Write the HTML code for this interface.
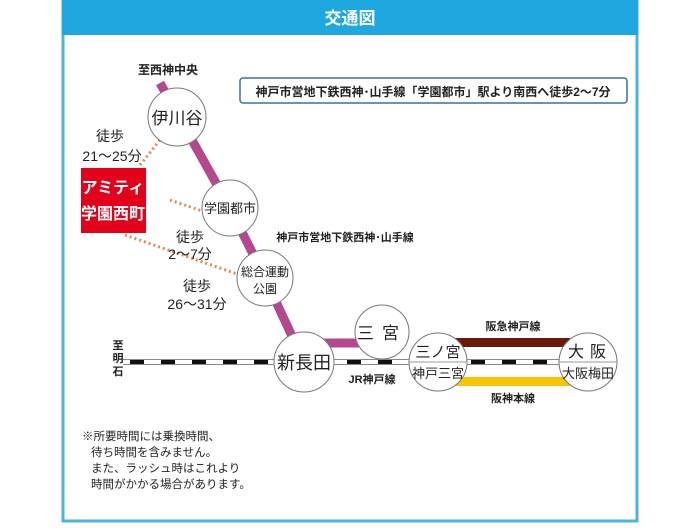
<!DOCTYPE html>
<html><head><meta charset="utf-8"><style>
body{margin:0;width:700px;height:525px;background:#fff;overflow:hidden}
svg text{font-family:"Liberation Sans","Noto Sans CJK JP",sans-serif;fill:#222}
</style></head><body>
<svg width="700" height="525" viewBox="0 0 700 525" xmlns="http://www.w3.org/2000/svg">
<rect x="63" y="0" width="574" height="521" fill="#fff" stroke="#4ab6dd" stroke-width="3"/>
<rect x="62" y="0" width="576" height="35" fill="#1fa8e0"/>
<text x="350" y="24" font-size="17" font-weight="bold" text-anchor="middle" style="fill:#fff">交通図</text>
<rect x="240" y="78" width="387" height="25" rx="3" fill="#fff" stroke="#3a6ea5" stroke-width="1.5"/>
<text x="433" y="96" font-size="12" font-weight="bold" text-anchor="middle">神戸市営地下鉄西神･山手線「学園都市」駅より南西へ徒歩2～7分</text>
<text x="168" y="74" font-size="12" font-weight="bold" text-anchor="middle">至西神中央</text>
<polyline points="160,83 230,208 265,278 304,362" fill="none" stroke="#b5478f" stroke-width="9"/>
<line x1="304" y1="343" x2="382" y2="343" stroke="#b5478f" stroke-width="9"/>
<text x="345" y="241" font-size="11" font-weight="bold" text-anchor="middle">神戸市営地下鉄西神･山手線</text>
<line x1="123" y1="362" x2="590" y2="362" stroke="#888" stroke-width="6"/>
<line x1="123" y1="362" x2="590" y2="362" stroke="#fff" stroke-width="4"/>
<line x1="130" y1="362" x2="590" y2="362" stroke="#111" stroke-width="4" stroke-dasharray="14,17"/>
<text x="118" y="349" font-size="11" font-weight="bold" text-anchor="middle">至</text>
<text x="118" y="362" font-size="11" font-weight="bold" text-anchor="middle">明</text>
<text x="118" y="375" font-size="11" font-weight="bold" text-anchor="middle">石</text>
<text x="372" y="383" font-size="11" font-weight="bold" text-anchor="middle">JR神戸線</text>
<rect x="455" y="338" width="115" height="9" fill="#6b1a0a"/>
<rect x="455" y="377" width="115" height="9" fill="#f7c600"/>
<text x="513" y="330" font-size="11" font-weight="bold" text-anchor="middle">阪急神戸線</text>
<text x="513" y="402" font-size="11" font-weight="bold" text-anchor="middle">阪神本線</text>
<g stroke="#e08a50" stroke-width="3" stroke-dasharray="2,3" fill="none">
<line x1="140" y1="165" x2="160" y2="140"/>
<line x1="170" y1="200" x2="205" y2="212"/>
<line x1="125" y1="235" x2="240" y2="275"/>
</g>
<g font-size="14" text-anchor="middle">
<text x="110" y="141">徒歩</text>
<text x="112" y="161">21～25分</text>
<text x="190" y="242">徒歩</text>
<text x="190" y="259">2～7分</text>
<text x="197" y="291">徒歩</text>
<text x="197" y="309">26～31分</text>
</g>
<rect x="81" y="168" width="65" height="65" fill="#e3001b"/>
<text x="113" y="193" font-size="16" font-weight="bold" text-anchor="middle" style="fill:#fff">アミティ</text>
<text x="113" y="219" font-size="16" font-weight="bold" text-anchor="middle" style="fill:#fff">学園西町</text>
<g fill="#fff" stroke="#777" stroke-width="1">
<circle cx="177" cy="117" r="29"/>
<circle cx="230" cy="208" r="28"/>
<circle cx="265" cy="278" r="28"/>
<circle cx="304" cy="362" r="30"/>
<circle cx="382" cy="332" r="27"/>
<circle cx="438" cy="362" r="29"/>
<circle cx="588" cy="362" r="29"/>
</g>
<line x1="409" y1="362" x2="467" y2="362" stroke="#999" stroke-width="1"/>
<line x1="559" y1="362" x2="617" y2="362" stroke="#999" stroke-width="1"/>
<text x="177" y="124" font-size="17" text-anchor="middle">伊川谷</text>
<text x="230" y="213" font-size="13" text-anchor="middle">学園都市</text>
<text x="265" y="276" font-size="12" text-anchor="middle">総合運動</text>
<text x="265" y="293" font-size="12" text-anchor="middle">公園</text>
<text x="304" y="369" font-size="18" text-anchor="middle">新長田</text>
<text x="382" y="339" font-size="17" text-anchor="middle" letter-spacing="8">三宮</text>
<text x="438" y="357" font-size="15" text-anchor="middle">三ノ宮</text>
<text x="438" y="378" font-size="13" text-anchor="middle">神戸三宮</text>
<text x="590" y="357" font-size="16" text-anchor="middle" letter-spacing="6">大阪</text>
<text x="588" y="378" font-size="13" text-anchor="middle">大阪梅田</text>
<g font-size="11.5">
<text x="82" y="440">※所要時間には乗換時間、</text>
<text x="91" y="456">待ち時間を含みません。</text>
<text x="91" y="472">また、ラッシュ時はこれより</text>
<text x="91" y="488">時間がかかる場合があります。</text>
</g>
</svg>
</body></html>
